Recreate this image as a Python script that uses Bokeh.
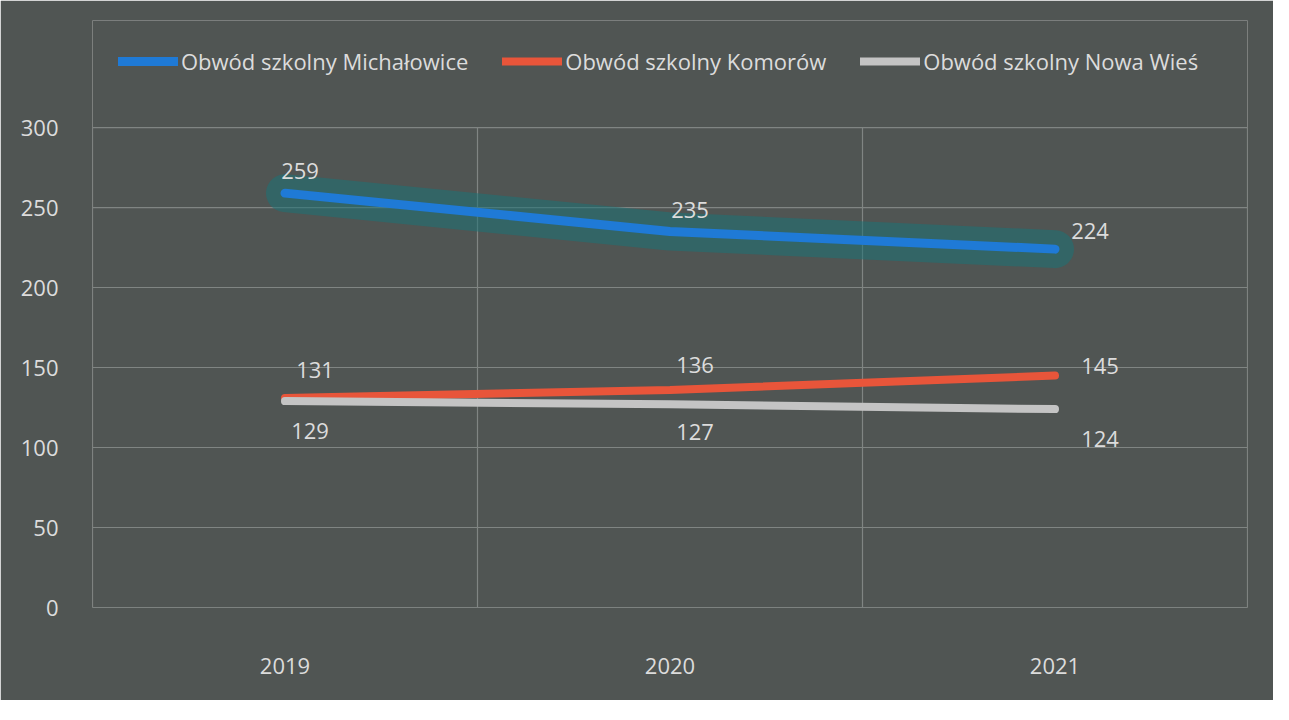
from bokeh.plotting import figure
from bokeh.models import Range1d, FixedTicker, Legend, LegendItem, ColumnDataSource
from bokeh.core.properties import value
from bokeh.embed import file_html
from bokeh.resources import INLINE

years = ["2019", "2020", "2021"]
michalowice = [259, 235, 224]
komorow = [131, 136, 145]
nowa_wies = [129, 127, 124]
series_names = ["Obwód szkolny Michałowice", "Obwód szkolny Komorów", "Obwód szkolny Nowa Wieś"]
y_ticks = [0, 50, 100, 150, 200, 250, 300]

BG = "#505553"
GRID = "#808583"
TXT = "#dcdcdc"
FONT = "Open Sans"

xs = [i + 0.5 for i in range(len(years))]
y_max = max(y_ticks)
n = len(years)

# frame extends above the value area to host the legend
p = figure(width=1273, height=700, output_backend="svg", toolbar_location=None,
           x_range=Range1d(0, n), y_range=Range1d(0, y_max * 1.223),
           min_border_left=92, min_border_right=26, min_border_top=20, min_border_bottom=93,
           outline_line_color=None)
p.background_fill_color = BG
p.border_fill_color = BG

# axes
p.xaxis.ticker = FixedTicker(ticks=xs)
p.xaxis.major_label_overrides = {x: y for x, y in zip(xs, years)}
p.yaxis.ticker = FixedTicker(ticks=y_ticks)
for ax in (p.xaxis[0], p.yaxis[0]):
    ax.axis_line_color = None
    ax.major_tick_line_color = None
    ax.minor_tick_line_color = None
    ax.major_label_text_color = TXT
    ax.major_label_text_font = FONT
    ax.major_label_text_font_size = "22px"
p.xaxis.major_label_standoff = 44
p.yaxis.major_label_standoff = 28

p.xgrid.visible = False
p.ygrid.visible = False
# grid lines limited to the value area
bounds = list(range(n + 1))
p.segment(x0=[0] * len(y_ticks), y0=y_ticks, x1=[n] * len(y_ticks), y1=y_ticks,
          line_color=GRID, line_width=1.2)
p.segment(x0=bounds, y0=[0] * len(bounds), x1=bounds, y1=[y_max] * len(bounds),
          line_color=GRID, line_width=1.2)

# glow around Michałowice line
p.line(xs, michalowice, line_color="#1b7276", line_width=38, line_alpha=0.55, line_cap="round")
r1 = p.line(xs, michalowice, line_color="#1f7ad6", line_width=9, line_cap="round")
r2 = p.line(xs, komorow, line_color="#e8553a", line_width=8, line_cap="round")
r3 = p.line(xs, nowa_wies, line_color="#c4c4c4", line_width=8, line_cap="round")

# data labels
def add_labels(vals, dx, dy):
    src = ColumnDataSource(dict(x=xs, y=vals, t=[str(v) for v in vals], dx=dx, dy=dy))
    p.text("x", "y", text="t", source=src, x_offset="dx", y_offset="dy",
           text_color=TXT, text_font=value(FONT), text_font_size="22px",
           text_align="center", text_baseline="middle")

add_labels(michalowice, [15, 20, 35], [-22, -22, -18])
add_labels(komorow, [30, 25, 45], [-28, -25, -10])
add_labels(nowa_wies, [25, 25, 45], [30, 28, 30])

legend = Legend(items=[LegendItem(label=series_names[0], renderers=[r1]),
                       LegendItem(label=series_names[1], renderers=[r2]),
                       LegendItem(label=series_names[2], renderers=[r3])],
                orientation="horizontal", location=(26, 531),
                background_fill_alpha=0, border_line_color=None,
                glyph_width=60, glyph_height=20, label_standoff=3, spacing=34,
                label_text_color=TXT, label_text_font=FONT, label_text_font_size="22px",
                padding=4, margin=0)
p.add_layout(legend, "center")

open("out.html", "w").write(file_html(p, INLINE))
